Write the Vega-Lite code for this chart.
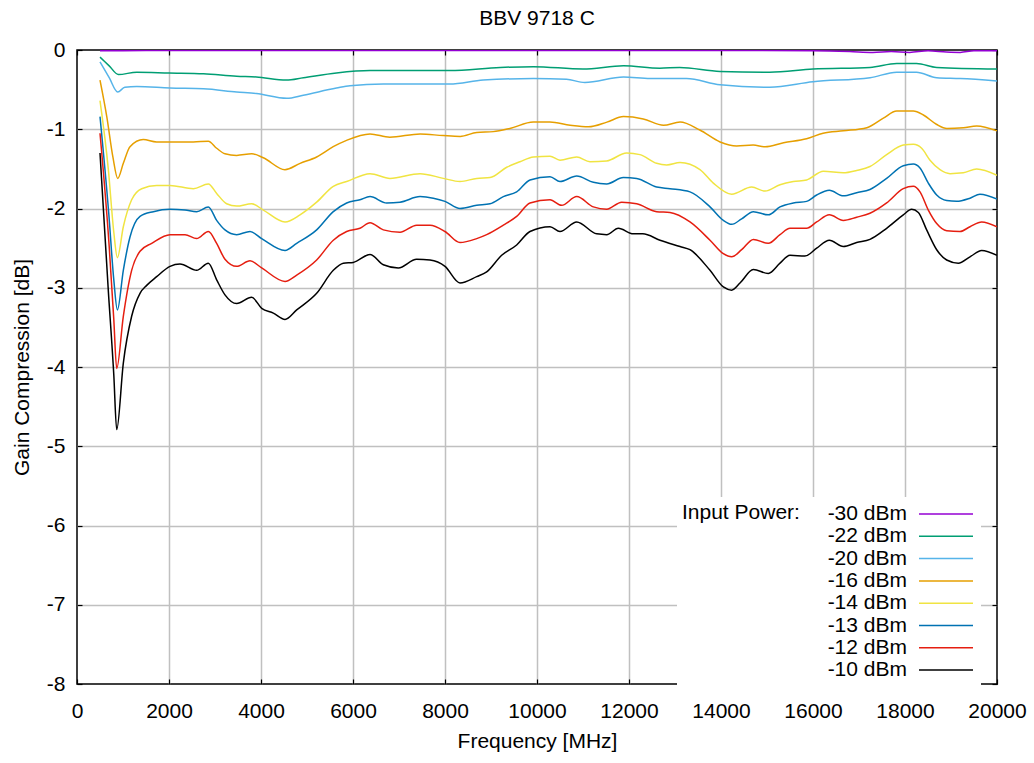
{
  "$schema": "https://vega.github.io/schema/vega-lite/v6.json",
  "width": 920,
  "height": 634,
  "autosize": {"type": "none"},
  "padding": {"left": 77, "top": 50, "right": 37, "bottom": 79},
  "background": "white",
  "title": {
    "text": "BBV 9718 C",
    "font": "Liberation Sans",
    "fontSize": 21,
    "fontWeight": "normal",
    "color": "black",
    "anchor": "middle",
    "frame": "group",
    "baseline": "alphabetic",
    "offset": -7
  },
  "config": {
    "view": {"stroke": "black", "strokeWidth": 1.5},
    "axis": {
      "labelFont": "Liberation Sans",
      "labelFontSize": 21,
      "labelColor": "black",
      "labelFlush": false,
      "titleFont": "Liberation Sans",
      "titleFontSize": 21,
      "titleFontWeight": "normal",
      "titleColor": "black",
      "gridColor": "#c0c0c0",
      "gridWidth": 1.5,
      "tickColor": "black",
      "tickSize": -5,
      "tickWidth": 1.2,
      "domain": false
    }
  },
  "data": {
    "values": [
      {"f": 500, "g": -0.01, "p": "-30 dBm"},
      {"f": 1000, "g": -0.01, "p": "-30 dBm"},
      {"f": 2000, "g": -0.005, "p": "-30 dBm"},
      {"f": 4000, "g": -0.005, "p": "-30 dBm"},
      {"f": 6000, "g": -0.005, "p": "-30 dBm"},
      {"f": 8000, "g": -0.005, "p": "-30 dBm"},
      {"f": 10000, "g": -0.005, "p": "-30 dBm"},
      {"f": 12000, "g": -0.005, "p": "-30 dBm"},
      {"f": 14000, "g": -0.005, "p": "-30 dBm"},
      {"f": 16000, "g": -0.01, "p": "-30 dBm"},
      {"f": 16800, "g": -0.02, "p": "-30 dBm"},
      {"f": 17300, "g": -0.03, "p": "-30 dBm"},
      {"f": 17700, "g": -0.02, "p": "-30 dBm"},
      {"f": 18100, "g": -0.03, "p": "-30 dBm"},
      {"f": 18500, "g": -0.01, "p": "-30 dBm"},
      {"f": 18900, "g": -0.025, "p": "-30 dBm"},
      {"f": 19200, "g": -0.03, "p": "-30 dBm"},
      {"f": 19500, "g": -0.01, "p": "-30 dBm"},
      {"f": 20000, "g": -0.01, "p": "-30 dBm"},

      {"f": 500, "g": -0.09, "p": "-22 dBm"},
      {"f": 700, "g": -0.2, "p": "-22 dBm"},
      {"f": 900, "g": -0.31, "p": "-22 dBm"},
      {"f": 1300, "g": -0.28, "p": "-22 dBm"},
      {"f": 2000, "g": -0.29, "p": "-22 dBm"},
      {"f": 2750, "g": -0.3, "p": "-22 dBm"},
      {"f": 3470, "g": -0.33, "p": "-22 dBm"},
      {"f": 3900, "g": -0.34, "p": "-22 dBm"},
      {"f": 4550, "g": -0.38, "p": "-22 dBm"},
      {"f": 4920, "g": -0.35, "p": "-22 dBm"},
      {"f": 5640, "g": -0.29, "p": "-22 dBm"},
      {"f": 6370, "g": -0.26, "p": "-22 dBm"},
      {"f": 8100, "g": -0.26, "p": "-22 dBm"},
      {"f": 9200, "g": -0.22, "p": "-22 dBm"},
      {"f": 9920, "g": -0.21, "p": "-22 dBm"},
      {"f": 11000, "g": -0.24, "p": "-22 dBm"},
      {"f": 11880, "g": -0.2, "p": "-22 dBm"},
      {"f": 12670, "g": -0.23, "p": "-22 dBm"},
      {"f": 13100, "g": -0.22, "p": "-22 dBm"},
      {"f": 13980, "g": -0.27, "p": "-22 dBm"},
      {"f": 15060, "g": -0.28, "p": "-22 dBm"},
      {"f": 16000, "g": -0.24, "p": "-22 dBm"},
      {"f": 17240, "g": -0.22, "p": "-22 dBm"},
      {"f": 17820, "g": -0.17, "p": "-22 dBm"},
      {"f": 18250, "g": -0.17, "p": "-22 dBm"},
      {"f": 18690, "g": -0.22, "p": "-22 dBm"},
      {"f": 20000, "g": -0.24, "p": "-22 dBm"},

      {"f": 500, "g": -0.15, "p": "-20 dBm"},
      {"f": 700, "g": -0.35, "p": "-20 dBm"},
      {"f": 885, "g": -0.53, "p": "-20 dBm"},
      {"f": 1040, "g": -0.47, "p": "-20 dBm"},
      {"f": 1300, "g": -0.46, "p": "-20 dBm"},
      {"f": 2020, "g": -0.48, "p": "-20 dBm"},
      {"f": 2750, "g": -0.49, "p": "-20 dBm"},
      {"f": 3470, "g": -0.53, "p": "-20 dBm"},
      {"f": 3900, "g": -0.55, "p": "-20 dBm"},
      {"f": 4560, "g": -0.61, "p": "-20 dBm"},
      {"f": 4920, "g": -0.57, "p": "-20 dBm"},
      {"f": 5640, "g": -0.48, "p": "-20 dBm"},
      {"f": 5935, "g": -0.45, "p": "-20 dBm"},
      {"f": 6660, "g": -0.43, "p": "-20 dBm"},
      {"f": 8100, "g": -0.43, "p": "-20 dBm"},
      {"f": 8830, "g": -0.38, "p": "-20 dBm"},
      {"f": 9920, "g": -0.36, "p": "-20 dBm"},
      {"f": 10640, "g": -0.37, "p": "-20 dBm"},
      {"f": 11040, "g": -0.41, "p": "-20 dBm"},
      {"f": 11880, "g": -0.34, "p": "-20 dBm"},
      {"f": 12460, "g": -0.36, "p": "-20 dBm"},
      {"f": 13250, "g": -0.36, "p": "-20 dBm"},
      {"f": 13980, "g": -0.44, "p": "-20 dBm"},
      {"f": 15060, "g": -0.47, "p": "-20 dBm"},
      {"f": 16000, "g": -0.4, "p": "-20 dBm"},
      {"f": 17240, "g": -0.35, "p": "-20 dBm"},
      {"f": 17820, "g": -0.28, "p": "-20 dBm"},
      {"f": 18250, "g": -0.28, "p": "-20 dBm"},
      {"f": 18690, "g": -0.35, "p": "-20 dBm"},
      {"f": 19200, "g": -0.36, "p": "-20 dBm"},
      {"f": 20000, "g": -0.39, "p": "-20 dBm"},

      {"f": 500, "g": -0.38, "p": "-16 dBm"},
      {"f": 650, "g": -0.85, "p": "-16 dBm"},
      {"f": 780, "g": -1.35, "p": "-16 dBm"},
      {"f": 885, "g": -1.62, "p": "-16 dBm"},
      {"f": 1007, "g": -1.43, "p": "-16 dBm"},
      {"f": 1152, "g": -1.22, "p": "-16 dBm"},
      {"f": 1440, "g": -1.13, "p": "-16 dBm"},
      {"f": 1730, "g": -1.16, "p": "-16 dBm"},
      {"f": 2530, "g": -1.16, "p": "-16 dBm"},
      {"f": 2855, "g": -1.15, "p": "-16 dBm"},
      {"f": 3036, "g": -1.24, "p": "-16 dBm"},
      {"f": 3217, "g": -1.31, "p": "-16 dBm"},
      {"f": 3470, "g": -1.33, "p": "-16 dBm"},
      {"f": 3800, "g": -1.31, "p": "-16 dBm"},
      {"f": 4050, "g": -1.36, "p": "-16 dBm"},
      {"f": 4520, "g": -1.51, "p": "-16 dBm"},
      {"f": 4850, "g": -1.43, "p": "-16 dBm"},
      {"f": 5210, "g": -1.35, "p": "-16 dBm"},
      {"f": 5570, "g": -1.22, "p": "-16 dBm"},
      {"f": 5860, "g": -1.14, "p": "-16 dBm"},
      {"f": 6370, "g": -1.06, "p": "-16 dBm"},
      {"f": 6800, "g": -1.1, "p": "-16 dBm"},
      {"f": 7460, "g": -1.06, "p": "-16 dBm"},
      {"f": 7960, "g": -1.08, "p": "-16 dBm"},
      {"f": 8330, "g": -1.09, "p": "-16 dBm"},
      {"f": 8690, "g": -1.04, "p": "-16 dBm"},
      {"f": 9050, "g": -1.03, "p": "-16 dBm"},
      {"f": 9410, "g": -0.99, "p": "-16 dBm"},
      {"f": 9920, "g": -0.91, "p": "-16 dBm"},
      {"f": 10280, "g": -0.91, "p": "-16 dBm"},
      {"f": 10720, "g": -0.95, "p": "-16 dBm"},
      {"f": 11120, "g": -0.97, "p": "-16 dBm"},
      {"f": 11520, "g": -0.91, "p": "-16 dBm"},
      {"f": 11880, "g": -0.84, "p": "-16 dBm"},
      {"f": 12310, "g": -0.87, "p": "-16 dBm"},
      {"f": 12750, "g": -0.95, "p": "-16 dBm"},
      {"f": 13110, "g": -0.91, "p": "-16 dBm"},
      {"f": 13540, "g": -1.01, "p": "-16 dBm"},
      {"f": 13980, "g": -1.16, "p": "-16 dBm"},
      {"f": 14340, "g": -1.21, "p": "-16 dBm"},
      {"f": 14700, "g": -1.2, "p": "-16 dBm"},
      {"f": 14960, "g": -1.22, "p": "-16 dBm"},
      {"f": 15360, "g": -1.17, "p": "-16 dBm"},
      {"f": 15860, "g": -1.12, "p": "-16 dBm"},
      {"f": 16220, "g": -1.05, "p": "-16 dBm"},
      {"f": 16660, "g": -1.02, "p": "-16 dBm"},
      {"f": 17170, "g": -0.98, "p": "-16 dBm"},
      {"f": 17530, "g": -0.86, "p": "-16 dBm"},
      {"f": 17820, "g": -0.77, "p": "-16 dBm"},
      {"f": 18180, "g": -0.77, "p": "-16 dBm"},
      {"f": 18400, "g": -0.82, "p": "-16 dBm"},
      {"f": 18690, "g": -0.94, "p": "-16 dBm"},
      {"f": 18910, "g": -0.99, "p": "-16 dBm"},
      {"f": 19270, "g": -0.98, "p": "-16 dBm"},
      {"f": 19560, "g": -0.96, "p": "-16 dBm"},
      {"f": 20000, "g": -1.02, "p": "-16 dBm"},

      {"f": 500, "g": -0.64, "p": "-14 dBm"},
      {"f": 680, "g": -1.5, "p": "-14 dBm"},
      {"f": 800, "g": -2.3, "p": "-14 dBm"},
      {"f": 878, "g": -2.62, "p": "-14 dBm"},
      {"f": 1007, "g": -2.23, "p": "-14 dBm"},
      {"f": 1188, "g": -1.89, "p": "-14 dBm"},
      {"f": 1406, "g": -1.75, "p": "-14 dBm"},
      {"f": 1732, "g": -1.71, "p": "-14 dBm"},
      {"f": 2022, "g": -1.71, "p": "-14 dBm"},
      {"f": 2529, "g": -1.75, "p": "-14 dBm"},
      {"f": 2855, "g": -1.69, "p": "-14 dBm"},
      {"f": 3036, "g": -1.81, "p": "-14 dBm"},
      {"f": 3253, "g": -1.94, "p": "-14 dBm"},
      {"f": 3471, "g": -1.97, "p": "-14 dBm"},
      {"f": 3797, "g": -1.94, "p": "-14 dBm"},
      {"f": 4051, "g": -2.02, "p": "-14 dBm"},
      {"f": 4522, "g": -2.17, "p": "-14 dBm"},
      {"f": 4848, "g": -2.08, "p": "-14 dBm"},
      {"f": 5210, "g": -1.92, "p": "-14 dBm"},
      {"f": 5572, "g": -1.72, "p": "-14 dBm"},
      {"f": 5862, "g": -1.66, "p": "-14 dBm"},
      {"f": 6370, "g": -1.56, "p": "-14 dBm"},
      {"f": 6804, "g": -1.62, "p": "-14 dBm"},
      {"f": 7457, "g": -1.56, "p": "-14 dBm"},
      {"f": 7964, "g": -1.62, "p": "-14 dBm"},
      {"f": 8326, "g": -1.66, "p": "-14 dBm"},
      {"f": 8689, "g": -1.62, "p": "-14 dBm"},
      {"f": 8979, "g": -1.61, "p": "-14 dBm"},
      {"f": 9341, "g": -1.48, "p": "-14 dBm"},
      {"f": 9630, "g": -1.41, "p": "-14 dBm"},
      {"f": 9921, "g": -1.35, "p": "-14 dBm"},
      {"f": 10283, "g": -1.34, "p": "-14 dBm"},
      {"f": 10500, "g": -1.39, "p": "-14 dBm"},
      {"f": 10863, "g": -1.35, "p": "-14 dBm"},
      {"f": 11152, "g": -1.41, "p": "-14 dBm"},
      {"f": 11515, "g": -1.4, "p": "-14 dBm"},
      {"f": 11949, "g": -1.3, "p": "-14 dBm"},
      {"f": 12239, "g": -1.32, "p": "-14 dBm"},
      {"f": 12601, "g": -1.43, "p": "-14 dBm"},
      {"f": 12819, "g": -1.45, "p": "-14 dBm"},
      {"f": 13109, "g": -1.42, "p": "-14 dBm"},
      {"f": 13543, "g": -1.51, "p": "-14 dBm"},
      {"f": 13833, "g": -1.68, "p": "-14 dBm"},
      {"f": 14232, "g": -1.82, "p": "-14 dBm"},
      {"f": 14667, "g": -1.73, "p": "-14 dBm"},
      {"f": 14957, "g": -1.78, "p": "-14 dBm"},
      {"f": 15283, "g": -1.7, "p": "-14 dBm"},
      {"f": 15572, "g": -1.66, "p": "-14 dBm"},
      {"f": 15862, "g": -1.64, "p": "-14 dBm"},
      {"f": 16225, "g": -1.53, "p": "-14 dBm"},
      {"f": 16659, "g": -1.55, "p": "-14 dBm"},
      {"f": 16949, "g": -1.52, "p": "-14 dBm"},
      {"f": 17239, "g": -1.47, "p": "-14 dBm"},
      {"f": 17601, "g": -1.32, "p": "-14 dBm"},
      {"f": 17963, "g": -1.2, "p": "-14 dBm"},
      {"f": 18181, "g": -1.19, "p": "-14 dBm"},
      {"f": 18362, "g": -1.24, "p": "-14 dBm"},
      {"f": 18544, "g": -1.39, "p": "-14 dBm"},
      {"f": 18761, "g": -1.51, "p": "-14 dBm"},
      {"f": 18979, "g": -1.56, "p": "-14 dBm"},
      {"f": 19268, "g": -1.55, "p": "-14 dBm"},
      {"f": 19558, "g": -1.5, "p": "-14 dBm"},
      {"f": 20000, "g": -1.58, "p": "-14 dBm"},

      {"f": 500, "g": -0.84, "p": "-13 dBm"},
      {"f": 690, "g": -2.06, "p": "-13 dBm"},
      {"f": 800, "g": -2.9, "p": "-13 dBm"},
      {"f": 878, "g": -3.28, "p": "-13 dBm"},
      {"f": 1007, "g": -2.78, "p": "-13 dBm"},
      {"f": 1152, "g": -2.36, "p": "-13 dBm"},
      {"f": 1370, "g": -2.1, "p": "-13 dBm"},
      {"f": 1660, "g": -2.04, "p": "-13 dBm"},
      {"f": 2022, "g": -2.01, "p": "-13 dBm"},
      {"f": 2348, "g": -2.02, "p": "-13 dBm"},
      {"f": 2602, "g": -2.04, "p": "-13 dBm"},
      {"f": 2855, "g": -1.98, "p": "-13 dBm"},
      {"f": 3036, "g": -2.15, "p": "-13 dBm"},
      {"f": 3217, "g": -2.27, "p": "-13 dBm"},
      {"f": 3471, "g": -2.33, "p": "-13 dBm"},
      {"f": 3761, "g": -2.29, "p": "-13 dBm"},
      {"f": 4015, "g": -2.38, "p": "-13 dBm"},
      {"f": 4522, "g": -2.53, "p": "-13 dBm"},
      {"f": 4776, "g": -2.44, "p": "-13 dBm"},
      {"f": 5210, "g": -2.27, "p": "-13 dBm"},
      {"f": 5572, "g": -2.04, "p": "-13 dBm"},
      {"f": 5862, "g": -1.93, "p": "-13 dBm"},
      {"f": 6152, "g": -1.89, "p": "-13 dBm"},
      {"f": 6370, "g": -1.85, "p": "-13 dBm"},
      {"f": 6732, "g": -1.93, "p": "-13 dBm"},
      {"f": 7022, "g": -1.92, "p": "-13 dBm"},
      {"f": 7457, "g": -1.85, "p": "-13 dBm"},
      {"f": 7746, "g": -1.87, "p": "-13 dBm"},
      {"f": 8000, "g": -1.91, "p": "-13 dBm"},
      {"f": 8326, "g": -2.0, "p": "-13 dBm"},
      {"f": 8689, "g": -1.96, "p": "-13 dBm"},
      {"f": 8979, "g": -1.94, "p": "-13 dBm"},
      {"f": 9268, "g": -1.85, "p": "-13 dBm"},
      {"f": 9558, "g": -1.79, "p": "-13 dBm"},
      {"f": 9848, "g": -1.64, "p": "-13 dBm"},
      {"f": 10283, "g": -1.6, "p": "-13 dBm"},
      {"f": 10500, "g": -1.66, "p": "-13 dBm"},
      {"f": 10863, "g": -1.59, "p": "-13 dBm"},
      {"f": 11225, "g": -1.67, "p": "-13 dBm"},
      {"f": 11515, "g": -1.69, "p": "-13 dBm"},
      {"f": 11877, "g": -1.61, "p": "-13 dBm"},
      {"f": 12167, "g": -1.62, "p": "-13 dBm"},
      {"f": 12601, "g": -1.73, "p": "-13 dBm"},
      {"f": 12891, "g": -1.75, "p": "-13 dBm"},
      {"f": 13326, "g": -1.79, "p": "-13 dBm"},
      {"f": 13761, "g": -1.98, "p": "-13 dBm"},
      {"f": 14051, "g": -2.15, "p": "-13 dBm"},
      {"f": 14232, "g": -2.2, "p": "-13 dBm"},
      {"f": 14449, "g": -2.13, "p": "-13 dBm"},
      {"f": 14703, "g": -2.04, "p": "-13 dBm"},
      {"f": 15029, "g": -2.08, "p": "-13 dBm"},
      {"f": 15283, "g": -1.98, "p": "-13 dBm"},
      {"f": 15572, "g": -1.93, "p": "-13 dBm"},
      {"f": 15862, "g": -1.91, "p": "-13 dBm"},
      {"f": 16080, "g": -1.83, "p": "-13 dBm"},
      {"f": 16355, "g": -1.77, "p": "-13 dBm"},
      {"f": 16659, "g": -1.84, "p": "-13 dBm"},
      {"f": 16949, "g": -1.8, "p": "-13 dBm"},
      {"f": 17239, "g": -1.76, "p": "-13 dBm"},
      {"f": 17601, "g": -1.62, "p": "-13 dBm"},
      {"f": 17963, "g": -1.46, "p": "-13 dBm"},
      {"f": 18181, "g": -1.44, "p": "-13 dBm"},
      {"f": 18326, "g": -1.49, "p": "-13 dBm"},
      {"f": 18507, "g": -1.68, "p": "-13 dBm"},
      {"f": 18689, "g": -1.83, "p": "-13 dBm"},
      {"f": 18906, "g": -1.9, "p": "-13 dBm"},
      {"f": 19123, "g": -1.91, "p": "-13 dBm"},
      {"f": 19413, "g": -1.87, "p": "-13 dBm"},
      {"f": 19630, "g": -1.82, "p": "-13 dBm"},
      {"f": 20000, "g": -1.88, "p": "-13 dBm"},

      {"f": 500, "g": -1.05, "p": "-12 dBm"},
      {"f": 700, "g": -2.48, "p": "-12 dBm"},
      {"f": 800, "g": -3.4, "p": "-12 dBm"},
      {"f": 863, "g": -4.02, "p": "-12 dBm"},
      {"f": 1007, "g": -3.36, "p": "-12 dBm"},
      {"f": 1188, "g": -2.78, "p": "-12 dBm"},
      {"f": 1370, "g": -2.54, "p": "-12 dBm"},
      {"f": 1624, "g": -2.44, "p": "-12 dBm"},
      {"f": 2022, "g": -2.33, "p": "-12 dBm"},
      {"f": 2348, "g": -2.33, "p": "-12 dBm"},
      {"f": 2602, "g": -2.38, "p": "-12 dBm"},
      {"f": 2855, "g": -2.29, "p": "-12 dBm"},
      {"f": 3036, "g": -2.44, "p": "-12 dBm"},
      {"f": 3217, "g": -2.64, "p": "-12 dBm"},
      {"f": 3471, "g": -2.73, "p": "-12 dBm"},
      {"f": 3761, "g": -2.66, "p": "-12 dBm"},
      {"f": 4015, "g": -2.75, "p": "-12 dBm"},
      {"f": 4522, "g": -2.92, "p": "-12 dBm"},
      {"f": 4776, "g": -2.84, "p": "-12 dBm"},
      {"f": 5210, "g": -2.65, "p": "-12 dBm"},
      {"f": 5572, "g": -2.4, "p": "-12 dBm"},
      {"f": 5862, "g": -2.29, "p": "-12 dBm"},
      {"f": 6152, "g": -2.25, "p": "-12 dBm"},
      {"f": 6370, "g": -2.18, "p": "-12 dBm"},
      {"f": 6659, "g": -2.27, "p": "-12 dBm"},
      {"f": 7022, "g": -2.3, "p": "-12 dBm"},
      {"f": 7384, "g": -2.21, "p": "-12 dBm"},
      {"f": 7674, "g": -2.21, "p": "-12 dBm"},
      {"f": 8000, "g": -2.29, "p": "-12 dBm"},
      {"f": 8326, "g": -2.43, "p": "-12 dBm"},
      {"f": 8689, "g": -2.38, "p": "-12 dBm"},
      {"f": 8906, "g": -2.33, "p": "-12 dBm"},
      {"f": 9268, "g": -2.21, "p": "-12 dBm"},
      {"f": 9558, "g": -2.1, "p": "-12 dBm"},
      {"f": 9848, "g": -1.93, "p": "-12 dBm"},
      {"f": 10283, "g": -1.89, "p": "-12 dBm"},
      {"f": 10536, "g": -1.96, "p": "-12 dBm"},
      {"f": 10863, "g": -1.85, "p": "-12 dBm"},
      {"f": 11225, "g": -1.98, "p": "-12 dBm"},
      {"f": 11515, "g": -2.01, "p": "-12 dBm"},
      {"f": 11841, "g": -1.92, "p": "-12 dBm"},
      {"f": 12167, "g": -1.94, "p": "-12 dBm"},
      {"f": 12601, "g": -2.04, "p": "-12 dBm"},
      {"f": 12891, "g": -2.05, "p": "-12 dBm"},
      {"f": 13326, "g": -2.17, "p": "-12 dBm"},
      {"f": 13761, "g": -2.4, "p": "-12 dBm"},
      {"f": 14051, "g": -2.57, "p": "-12 dBm"},
      {"f": 14232, "g": -2.61, "p": "-12 dBm"},
      {"f": 14449, "g": -2.52, "p": "-12 dBm"},
      {"f": 14703, "g": -2.39, "p": "-12 dBm"},
      {"f": 15029, "g": -2.44, "p": "-12 dBm"},
      {"f": 15283, "g": -2.33, "p": "-12 dBm"},
      {"f": 15500, "g": -2.25, "p": "-12 dBm"},
      {"f": 15862, "g": -2.25, "p": "-12 dBm"},
      {"f": 16080, "g": -2.17, "p": "-12 dBm"},
      {"f": 16355, "g": -2.08, "p": "-12 dBm"},
      {"f": 16659, "g": -2.15, "p": "-12 dBm"},
      {"f": 16949, "g": -2.11, "p": "-12 dBm"},
      {"f": 17239, "g": -2.06, "p": "-12 dBm"},
      {"f": 17601, "g": -1.93, "p": "-12 dBm"},
      {"f": 17963, "g": -1.75, "p": "-12 dBm"},
      {"f": 18181, "g": -1.72, "p": "-12 dBm"},
      {"f": 18326, "g": -1.79, "p": "-12 dBm"},
      {"f": 18507, "g": -2.02, "p": "-12 dBm"},
      {"f": 18689, "g": -2.19, "p": "-12 dBm"},
      {"f": 18906, "g": -2.28, "p": "-12 dBm"},
      {"f": 19196, "g": -2.29, "p": "-12 dBm"},
      {"f": 19413, "g": -2.23, "p": "-12 dBm"},
      {"f": 19667, "g": -2.17, "p": "-12 dBm"},
      {"f": 20000, "g": -2.23, "p": "-12 dBm"},

      {"f": 500, "g": -1.3, "p": "-10 dBm"},
      {"f": 680, "g": -3.03, "p": "-10 dBm"},
      {"f": 800, "g": -4.1, "p": "-10 dBm"},
      {"f": 863, "g": -4.79, "p": "-10 dBm"},
      {"f": 1007, "g": -3.95, "p": "-10 dBm"},
      {"f": 1188, "g": -3.36, "p": "-10 dBm"},
      {"f": 1370, "g": -3.07, "p": "-10 dBm"},
      {"f": 1515, "g": -2.97, "p": "-10 dBm"},
      {"f": 1732, "g": -2.86, "p": "-10 dBm"},
      {"f": 2022, "g": -2.73, "p": "-10 dBm"},
      {"f": 2239, "g": -2.7, "p": "-10 dBm"},
      {"f": 2602, "g": -2.78, "p": "-10 dBm"},
      {"f": 2855, "g": -2.69, "p": "-10 dBm"},
      {"f": 3036, "g": -2.9, "p": "-10 dBm"},
      {"f": 3217, "g": -3.09, "p": "-10 dBm"},
      {"f": 3471, "g": -3.2, "p": "-10 dBm"},
      {"f": 3797, "g": -3.12, "p": "-10 dBm"},
      {"f": 4015, "g": -3.26, "p": "-10 dBm"},
      {"f": 4268, "g": -3.32, "p": "-10 dBm"},
      {"f": 4522, "g": -3.4, "p": "-10 dBm"},
      {"f": 4776, "g": -3.28, "p": "-10 dBm"},
      {"f": 5210, "g": -3.07, "p": "-10 dBm"},
      {"f": 5572, "g": -2.78, "p": "-10 dBm"},
      {"f": 5790, "g": -2.69, "p": "-10 dBm"},
      {"f": 6007, "g": -2.68, "p": "-10 dBm"},
      {"f": 6370, "g": -2.58, "p": "-10 dBm"},
      {"f": 6659, "g": -2.71, "p": "-10 dBm"},
      {"f": 6985, "g": -2.75, "p": "-10 dBm"},
      {"f": 7384, "g": -2.64, "p": "-10 dBm"},
      {"f": 7674, "g": -2.65, "p": "-10 dBm"},
      {"f": 8000, "g": -2.73, "p": "-10 dBm"},
      {"f": 8326, "g": -2.94, "p": "-10 dBm"},
      {"f": 8689, "g": -2.86, "p": "-10 dBm"},
      {"f": 8906, "g": -2.8, "p": "-10 dBm"},
      {"f": 9232, "g": -2.59, "p": "-10 dBm"},
      {"f": 9558, "g": -2.46, "p": "-10 dBm"},
      {"f": 9848, "g": -2.29, "p": "-10 dBm"},
      {"f": 10283, "g": -2.23, "p": "-10 dBm"},
      {"f": 10500, "g": -2.29, "p": "-10 dBm"},
      {"f": 10863, "g": -2.17, "p": "-10 dBm"},
      {"f": 11298, "g": -2.32, "p": "-10 dBm"},
      {"f": 11515, "g": -2.33, "p": "-10 dBm"},
      {"f": 11768, "g": -2.25, "p": "-10 dBm"},
      {"f": 12094, "g": -2.32, "p": "-10 dBm"},
      {"f": 12300, "g": -2.32, "p": "-10 dBm"},
      {"f": 12674, "g": -2.4, "p": "-10 dBm"},
      {"f": 13109, "g": -2.48, "p": "-10 dBm"},
      {"f": 13326, "g": -2.52, "p": "-10 dBm"},
      {"f": 13761, "g": -2.78, "p": "-10 dBm"},
      {"f": 14051, "g": -2.99, "p": "-10 dBm"},
      {"f": 14232, "g": -3.03, "p": "-10 dBm"},
      {"f": 14413, "g": -2.94, "p": "-10 dBm"},
      {"f": 14703, "g": -2.77, "p": "-10 dBm"},
      {"f": 15029, "g": -2.82, "p": "-10 dBm"},
      {"f": 15283, "g": -2.69, "p": "-10 dBm"},
      {"f": 15500, "g": -2.59, "p": "-10 dBm"},
      {"f": 15826, "g": -2.6, "p": "-10 dBm"},
      {"f": 16080, "g": -2.5, "p": "-10 dBm"},
      {"f": 16355, "g": -2.4, "p": "-10 dBm"},
      {"f": 16659, "g": -2.48, "p": "-10 dBm"},
      {"f": 16949, "g": -2.43, "p": "-10 dBm"},
      {"f": 17239, "g": -2.39, "p": "-10 dBm"},
      {"f": 17601, "g": -2.25, "p": "-10 dBm"},
      {"f": 17963, "g": -2.08, "p": "-10 dBm"},
      {"f": 18145, "g": -2.01, "p": "-10 dBm"},
      {"f": 18290, "g": -2.05, "p": "-10 dBm"},
      {"f": 18471, "g": -2.27, "p": "-10 dBm"},
      {"f": 18689, "g": -2.52, "p": "-10 dBm"},
      {"f": 18906, "g": -2.65, "p": "-10 dBm"},
      {"f": 19159, "g": -2.69, "p": "-10 dBm"},
      {"f": 19413, "g": -2.61, "p": "-10 dBm"},
      {"f": 19667, "g": -2.53, "p": "-10 dBm"},
      {"f": 20000, "g": -2.59, "p": "-10 dBm"}
    ]
  },
  "layer": [
    {
      "mark": {"type": "line", "strokeWidth": 1.5, "clip": true, "interpolate": "monotone"},
      "encoding": {
        "x": {
          "field": "f",
          "type": "quantitative",
          "scale": {"domain": [0, 20000], "nice": false, "zero": false},
          "axis": {
            "title": "Frequency [MHz]",
            "values": [0, 2000, 4000, 6000, 8000, 10000, 12000, 14000, 16000, 18000, 20000],
            "labelExpr": "'' + datum.value",
            "labelPadding": 21,
            "titlePadding": 9,
            "gridOpacity": {"condition": {"test": "datum.value == 0 || datum.value == 20000", "value": 0}, "value": 1}
          }
        },
        "y": {
          "field": "g",
          "type": "quantitative",
          "scale": {"domain": [-8, 0], "nice": false, "zero": false},
          "axis": {
            "title": "Gain Compression [dB]",
            "values": [-8, -7, -6, -5, -4, -3, -2, -1, 0],
            "labelExpr": "'' + datum.value",
            "labelPadding": 17,
            "titlePadding": 14,
            "gridOpacity": {"condition": {"test": "datum.value == 0 || datum.value == -8", "value": 0}, "value": 1}
          }
        },
        "color": {
          "field": "p",
          "type": "nominal",
          "sort": null,
          "scale": {
            "domain": ["-30 dBm", "-22 dBm", "-20 dBm", "-16 dBm", "-14 dBm", "-13 dBm", "-12 dBm", "-10 dBm"],
            "range": ["#9400d3", "#009e73", "#56b4e9", "#e69f00", "#f0e442", "#0072b2", "#e51e10", "#000000"]
          },
          "legend": {
            "title": "Input Power:",
            "orient": "none",
            "legendX": 600,
            "legendY": 447,
            "fillColor": "white",
            "padding": 5,
            "titleOrient": "left",
            "titleAnchor": "start",
            "titlePadding": 26,
            "titleFont": "Liberation Sans",
            "titleFontSize": 21,
            "titleFontWeight": "normal",
            "titleColor": "black",
            "titleBaseline": "top",
            "labelFont": "Liberation Sans",
            "labelFontSize": 21,
            "labelColor": "black",
            "labelAlign": "right",
            "labelOffset": -51,
            "symbolType": "M-2.4545,0H2.4545",
            "symbolSize": 484,
            "symbolStrokeWidth": 1.5,
            "symbolOffset": 108,
            "rowPadding": 0.3
          }
        }
      }
    },
    {
      "transform": [{"filter": "false"}],
      "mark": {"type": "line"},
      "encoding": {
        "x": {
          "field": "f",
          "type": "quantitative",
          "axis": {
            "orient": "top",
            "title": null,
            "labels": false,
            "grid": false,
            "values": [0, 2000, 4000, 6000, 8000, 10000, 12000, 14000, 16000, 18000, 20000]
          }
        },
        "y": {
          "field": "g",
          "type": "quantitative",
          "axis": {
            "orient": "right",
            "title": null,
            "labels": false,
            "grid": false,
            "values": [-8, -7, -6, -5, -4, -3, -2, -1, 0]
          }
        }
      }
    }
  ],
  "resolve": {"axis": {"x": "independent", "y": "independent"}}
}
